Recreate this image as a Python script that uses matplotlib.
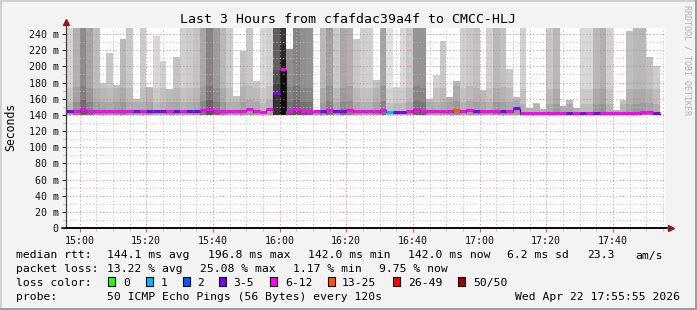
import numpy as np
import pandas as pd
import matplotlib
matplotlib.use("Agg")
import matplotlib.pyplot as plt
import matplotlib.dates as mdates
from matplotlib.patches import Rectangle

plt.rcParams['font.family'] = ['DejaVu Sans Mono']

# ---- data (one slot = one 120 s step, 50 pings) ----
slot_start = pd.Timestamp("2026-04-22 14:56:00")
view_start = pd.Timestamp("2026-04-22 14:55:55")
view_end = pd.Timestamp("2026-04-22 17:55:55")

# highest ping in the slot (ms); values over the top of the chart are clipped
smoke_top = [260, 260, 260, 260, 260, 180, 217, 177, 234, 260,
             160, 260, 174, 238, 207, 172, 212, 260, 260, 260,
             260, 260, 260, 260, 260, 163, 219, 260, 182, 260,
             260, 260, 260, 222, 260, 260, 260, 145, 260, 260,
             260, 260, 260, 234, 260, 260, 183, 260, 260, 175,
             260, 260, 260, 260, 160, 189, 231, 162, 182, 260,
             260, 260, 171, 260, 260, 260, 197, 162, 260, 148,
             155, 147, 260, 260, 151, 159, 148, 260, 260, 260,
             260, 260, 146, 159, 244, 260, 260, 212, 200]
# lowest ping in the slot (ms)
smoke_low = [139.5] * 89
# smoke grey level (0-255, darker = denser pings)
smoke_gray = [0xd4, 0xb0, 0x8c, 0xa4, 0xbc, 0xc4, 0xc8, 0xc0, 0xb8, 0xc8,
              0xcc, 0xcc, 0xc4, 0xd8, 0xd0, 0xc8, 0xc4, 0xd0, 0xcc, 0xc4,
              0xa8, 0x84, 0x9c, 0xb8, 0xcc, 0xcc, 0xc0, 0xc8, 0xc8, 0xd8,
              0xd0, 0x60, 0x38, 0x90, 0x84, 0x90, 0x94, 0xc8, 0xb8, 0xa0,
              0xc8, 0xa8, 0xb0, 0xc8, 0xd0, 0xd0, 0xc0, 0xa4, 0xe0, 0xd8,
              0xd8, 0xc8, 0x94, 0x94, 0xc8, 0xd0, 0xc8, 0xc0, 0xb8, 0xd0,
              0xc8, 0xc0, 0xc8, 0xd0, 0xb8, 0xc0, 0xc8, 0xc8, 0xd0, 0xd0,
              0xd0, 0xd0, 0xc8, 0xb8, 0xc8, 0xc8, 0xd0, 0xd8, 0xd8, 0xb8,
              0xb0, 0xd0, 0xd0, 0xd0, 0xc0, 0xb8, 0xb8, 0xc0, 0xcc]
median_ms = [143.5, 144.5, 146, 143.5, 143.5, 143.5, 143.5, 143.5, 143.5, 143.5,
             143.5, 143.5, 143.5, 143.5, 143.5, 143.5, 143.5, 143.5, 143.5, 143.5,
             145, 146, 143.5, 143.5, 143.5, 143.5, 144.5, 146, 143.5, 143,
             146, 166, 196, 144.5, 146, 143.5, 143.5, 143.5, 143.5, 145.5,
             143.5, 143.5, 145.5, 143.5, 143.5, 143.5, 143.5, 145.5, 143, 143,
             143, 143.5, 145.5, 143.5, 143.5, 143.5, 143.5, 143.5, 145.5, 143.5,
             145.5, 143.5, 143.5, 143.5, 143.5, 144, 143.5, 147, 141.5, 141.5,
             141.5, 141.5, 141.5, 141.5, 141.5, 141.5, 141.5, 142, 141.5, 141.5,
             141.5, 141.5, 141.5, 141.5, 141.5, 141.5, 142.5, 142.5, 141.5]
lost_pings = [4, 7, 7, 7, 7, 7, 7, 7, 7, 7,
              4, 7, 4, 4, 4, 7, 4, 7, 4, 4,
              7, 7, 7, 7, 7, 7, 7, 7, 7, 7,
              7, 4, 7, 7, 7, 7, 7, 7, 4, 7,
              4, 4, 7, 7, 7, 7, 7, 7, 1, 4,
              4, 7, 7, 7, 7, 7, 7, 7, 13, 7,
              7, 4, 7, 7, 7, 4, 7, 4, 7, 7,
              7, 7, 7, 7, 7, 4, 7, 4, 7, 4,
              7, 7, 7, 7, 7, 7, 7, 7, 4]

loss_labels = ["0", "1", "2", "3-5", "6-12", "13-25", "26-49", "50/50"]
loss_bins = [0, 1, 2, 3, 6, 13, 26, 50]
loss_colors = ["#26ff00", "#00b8ff", "#0059ff", "#7e00ff", "#ff00ff",
               "#ff5500", "#ff0000", "#a10000"]

y_ticks = [0, 20, 40, 60, 80, 100, 120, 140, 160, 180, 200, 220, 240]
y_ticklabels = ["0"] + ["%d m" % v for v in y_ticks[1:]]

W, H = 697, 310
fig = plt.figure(figsize=(W / 100, H / 100), dpi=100)
fig.patch.set_facecolor("#f3f3f3")

def fx(px):
    return px / W

def fy(py):
    return 1 - py / H

ax = fig.add_axes([fx(66), fy(228), 600 / W, 200 / H])
ax.set_facecolor("white")

times = slot_start + pd.to_timedelta(np.arange(len(smoke_top)) * 120, unit="s")
xs = mdates.date2num(times.to_pydatetime())
step = 120 / 86400.0

# smoke: darker near the median, lighter further up
for i in range(len(xs)):
    g = smoke_gray[i]
    lo, med, top = smoke_low[i], median_ms[i], smoke_top[i]
    layers = [(lo, med + 2, -45), (med + 2, med + 12, -30),
              (med + 12, med + 30, -14), (med + 30, 300, 0)]
    for a, b, d in layers:
        b = min(b, top)
        if b <= a:
            continue
        c = max(0, min(255, g + d)) / 255.0
        ax.bar(xs[i], b - a, bottom=a, width=step, align="edge",
               color=(c, c, c), linewidth=0, zorder=1)

# median: thin dark step line + coloured segment per slot
edges = np.append(xs, xs[-1] + step)
ax.step(edges, list(median_ms) + [median_ms[-1]], where="post",
        color="#202020", lw=0.8, zorder=3)
for i in range(len(xs)):
    k = np.searchsorted(loss_bins, lost_pings[i], side="right") - 1
    ax.hlines(median_ms[i] + 0.9, xs[i], xs[i] + step,
              color=loss_colors[k], lw=2.2, zorder=4)

ax.set_xlim(mdates.date2num(view_start.to_pydatetime()),
            mdates.date2num(view_end.to_pydatetime()))
ax.set_ylim(0, 247.5)

ax.xaxis.set_major_locator(mdates.MinuteLocator(byminute=[0, 20, 40]))
ax.xaxis.set_minor_locator(mdates.MinuteLocator(byminute=range(0, 60, 5)))
ax.xaxis.set_major_formatter(mdates.DateFormatter("%H:%M"))
ax.set_yticks(y_ticks)
ax.set_yticklabels(y_ticklabels)
ax.set_yticks(np.arange(10, 250, 20), minor=True)

ax.set_axisbelow(False)
ax.grid(which="major", color="#f07070", alpha=0.75, linestyle=(0, (1, 2)), lw=0.8)
ax.grid(which="minor", color="#bbbbbb", alpha=0.8, linestyle=(0, (1, 2)), lw=0.8)

ax.tick_params(axis="x", which="major", length=3, color="#e06060",
               labelsize=7.2, pad=2.5, labelcolor="#111111")
ax.tick_params(axis="x", which="minor", length=2, color="#bbbbbb")
ax.tick_params(axis="y", which="major", length=3, color="#333333",
               labelsize=7.2, pad=2.3, labelcolor="#111111")
ax.tick_params(axis="y", which="minor", length=2, color="#bbbbbb")

for s in ["top", "right"]:
    ax.spines[s].set_visible(False)
ax.spines["left"].set_color("#404040")
ax.spines["left"].set_linewidth(0.9)
ax.spines["bottom"].set_color("black")
ax.spines["bottom"].set_linewidth(1.1)
ax.spines["left"].set_zorder(5)
ax.spines["bottom"].set_zorder(5)

# axis extension and arrows
ax.plot([-0.007, 1.005], [0, 0], transform=ax.transAxes, color="black",
        lw=1.1, clip_on=False, zorder=5)
ax.plot([0, 0], [1.0, 1.02], transform=ax.transAxes, color="#404040",
        lw=0.9, clip_on=False, zorder=5)
ax.plot([1.008], [0], marker=">", ms=4.5, color="#8b1a1a",
        transform=ax.transAxes, clip_on=False, zorder=6)
ax.plot([0], [1.03], marker="^", ms=4.5, color="#8b1a1a",
        transform=ax.transAxes, clip_on=False, zorder=6)

# frame of the picture
fig.patches.append(Rectangle((0, 0), 1, 1, transform=fig.transFigure,
                             fill=False, ec="#cfcfcf", lw=2))
fig.patches.append(Rectangle((fx(W - 2), 0), 2 / W, 1, transform=fig.transFigure,
                             color="#9c9c9c", lw=0))
fig.patches.append(Rectangle((0, 0), 1, 2 / H, transform=fig.transFigure,
                             color="#9c9c9c", lw=0))

fig.text(fx(348), fy(23.3), "Last 3 Hours from cfafdac39a4f to CMCC-HLJ",
         ha="center", va="baseline", fontsize=9.5)
fig.text(fx(10.5), fy(127), "Seconds", rotation=90, ha="center",
         va="center", fontsize=8.3)
fig.text(fx(687), fy(60), "RRDTOOL / TOBI OETIKER", rotation=-90,
         ha="center", va="center", fontsize=6, color="#b4b4b4")

fs = 8.2
row1, row2, row3, row4 = 258.5, 272.0, 285.8, 299.5
fig.text(fx(16), fy(row1), "median rtt:", fontsize=fs, va="baseline")
fig.text(fx(107.3), fy(row1), "144.1 ms avg", fontsize=fs, va="baseline")
fig.text(fx(208.3), fy(row1), "196.8 ms max", fontsize=fs, va="baseline")
fig.text(fx(308), fy(row1), "142.0 ms min", fontsize=fs, va="baseline")
fig.text(fx(408.3), fy(row1), "142.0 ms now", fontsize=fs, va="baseline")
fig.text(fx(506.7), fy(row1), "6.2 ms sd", fontsize=fs, va="baseline")
fig.text(fx(586.7), fy(row1), "23.3", fontsize=fs, va="baseline")
fig.text(fx(635.3), fy(row1), "am/s", fontsize=fs, va="baseline")

fig.text(fx(16), fy(row2), "packet loss:", fontsize=fs, va="baseline")
fig.text(fx(107.3), fy(row2), "13.22 % avg", fontsize=fs, va="baseline")
fig.text(fx(200), fy(row2), "25.08 % max", fontsize=fs, va="baseline")
fig.text(fx(293.3), fy(row2), "1.17 % min", fontsize=fs, va="baseline")
fig.text(fx(379), fy(row2), "9.75 % now", fontsize=fs, va="baseline")

fig.text(fx(16), fy(row3), "loss color:", fontsize=fs, va="baseline")
box_x = [108.3, 145.7, 182.7, 219.3, 270, 328.3, 393.3, 458.3]
lab_x = [123.3, 161, 197.3, 233.3, 285, 341.7, 408.3, 473.3]
for bx, lx, lab, col in zip(box_x, lab_x, loss_labels, loss_colors):
    fig.patches.append(Rectangle((fx(bx), fy(row3)), 7 / W, 8.5 / H,
                                 transform=fig.transFigure, fc=col,
                                 ec="black", lw=0.8))
    fig.text(fx(lx), fy(row3), lab, fontsize=fs, va="baseline")

fig.text(fx(16), fy(row4), "probe:", fontsize=fs, va="baseline")
fig.text(fx(107.3), fy(row4), "50 ICMP Echo Pings (56 Bytes) every 120s",
         fontsize=fs, va="baseline")
fig.text(fx(680), fy(row4), "Wed Apr 22 17:55:55 2026", fontsize=fs,
         va="baseline", ha="right")

fig.savefig("out.png", dpi=100, facecolor=fig.get_facecolor())
